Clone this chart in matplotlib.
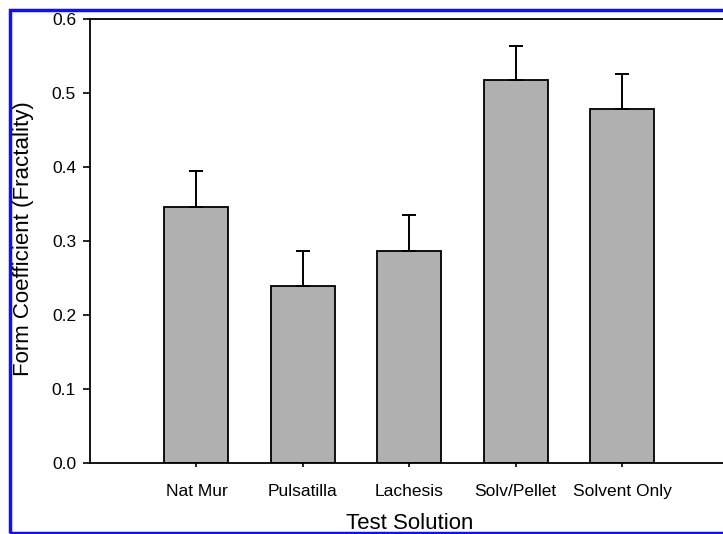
import numpy as np
import matplotlib
matplotlib.use('Agg')
import matplotlib.pyplot as plt
import matplotlib.patches as patches

plt.rcParams['font.family'] = ['Liberation Sans', 'DejaVu Sans']

categorias = ['Nat Mur', 'Pulsatilla', 'Lachesis', 'Solv/Pellet', 'Solvent Only']
valores = [0.346, 0.239, 0.286, 0.517, 0.478]
errores = [0.049, 0.048, 0.049, 0.047, 0.047]
yticks = [0.0, 0.1, 0.2, 0.3, 0.4, 0.5, 0.6]

fig = plt.figure(figsize=(7.23, 5.34), dpi=100)
ax = fig.add_axes([0.1245, 0.133, 0.883, 0.8315])

x = np.arange(1, len(categorias) + 1)
ax.bar(x, valores, width=0.6, color='#b0b0b0', edgecolor='black', linewidth=1.3, zorder=2)
ax.errorbar(x, valores, yerr=[np.zeros(len(errores)), errores], fmt='none',
            ecolor='black', elinewidth=1.4, capsize=5, capthick=1.4, zorder=3)

ax.set_xlim(0, 6)
ax.set_ylim(0, 0.6)
ax.set_xticks(x)
ax.set_xticklabels(categorias, fontsize=12.5)
ax.set_yticks(yticks)
ax.set_yticklabels(['%.1f' % v for v in yticks], fontsize=12.5)
ax.tick_params(axis='y', direction='out', length=5, width=1.2, pad=5)
ax.tick_params(axis='x', direction='out', length=3, width=1.2, pad=12)
ax.spines['right'].set_visible(False)
for s in ['left', 'bottom', 'top']:
    ax.spines[s].set_linewidth(1.3)

ax.set_ylabel('Form Coefficient (Fractality)', fontsize=16)
ax.set_xlabel('Test Solution', fontsize=16)
ax.yaxis.set_label_coords(-0.087, 0.505)
ax.xaxis.set_label_coords(0.5, -0.113)

# marco azul
borde = patches.Rectangle((9.5 / 723, 1 / 534), 1.2, 523 / 534, transform=fig.transFigure,
                          fill=False, edgecolor='#1010f0', linewidth=2.5, clip_on=False)
fig.patches.append(borde)

plt.savefig('out.png', dpi=100)
